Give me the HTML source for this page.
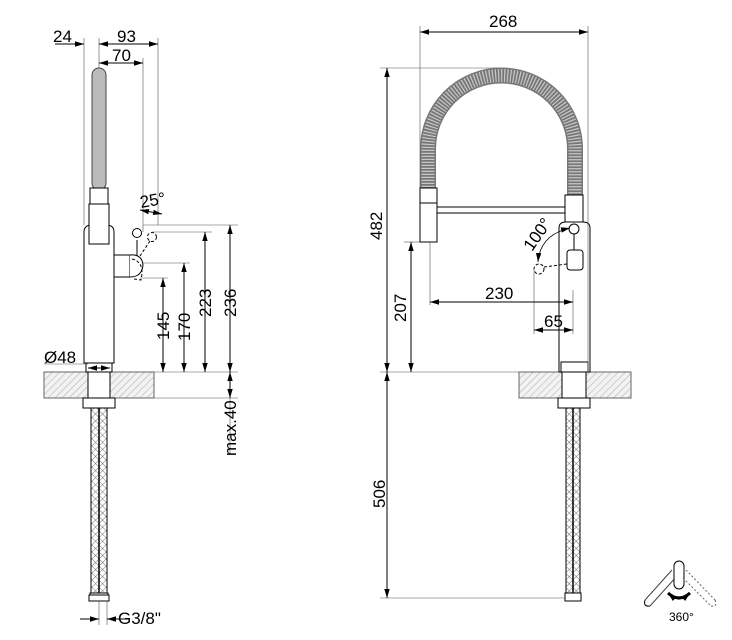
<!DOCTYPE html>
<html><head><meta charset="utf-8"><style>
html,body{margin:0;padding:0;background:#fff;}
svg{display:block;font-family:"Liberation Sans",sans-serif;}
</style></head><body>
<svg width="732" height="640" viewBox="0 0 732 640" xmlns="http://www.w3.org/2000/svg">
<defs>
<pattern id="hatch" width="5" height="5" patternUnits="userSpaceOnUse" patternTransform="rotate(45)">
<rect width="5" height="5" fill="#f2f2f2"/><line x1="0" y1="0" x2="0" y2="5" stroke="#aaa" stroke-width="1"/></pattern>
<pattern id="braid" width="5" height="5" patternUnits="userSpaceOnUse" patternTransform="rotate(45)">
<rect width="5" height="5" fill="#fff"/><line x1="0" y1="0" x2="0" y2="5" stroke="#555" stroke-width="0.8"/><line x1="0" y1="0" x2="5" y2="0" stroke="#555" stroke-width="0.8"/></pattern>
<marker id="a" viewBox="0 0 10 10" refX="10" refY="5" markerUnits="userSpaceOnUse" markerWidth="9" markerHeight="9" orient="auto-start-reverse"><path d="M0,2 L10,5 L0,8z" fill="#000"/></marker>
</defs>
<g stroke="#000" fill="none" stroke-width="1">

<!-- LEFT FAUCET -->
<rect x="44" y="372" width="110" height="26" fill="url(#hatch)" stroke="#666"/>
<rect x="88" y="372" width="22" height="26" fill="#fff"/>
<path d="M84,363 V232 Q84,225 92,225 H106 Q114,225 114,232 V363 Z" fill="#fff"/>
<rect x="86" y="363" width="26" height="9" fill="#fff"/>
<rect x="83" y="398" width="32" height="10" fill="#fff"/>
<rect x="92" y="68" width="14" height="122" rx="7" fill="#bbb" stroke="#444"/>
<rect x="90" y="188" width="18" height="16" fill="#fff"/>
<rect x="89" y="204" width="20" height="40" fill="#fff"/>
<rect x="114" y="255" width="16" height="22" fill="#fff"/>
<path d="M130,255 Q142,254 143,265 Q142,277 130,277" fill="#fff"/>
<line x1="137" y1="240" x2="137" y2="256"/><circle cx="137" cy="233" r="4.5" fill="#fff"/>
<g stroke-dasharray="3,2"><line x1="140" y1="256" x2="150" y2="241"/><circle cx="152" cy="237" r="4.5"/><path d="M132,259 Q145,262 141,280 L134,279"/></g>
<rect x="91" y="408" width="16" height="185" fill="url(#braid)"/>
<line x1="99" y1="408" x2="99" y2="593" stroke-width="1.5"/>
<rect x="90" y="593" width="18" height="8" fill="#fff"/>
<rect x="89" y="595" width="20" height="6" fill="#fff"/>

<!-- left dims -->
<g stroke-width="0.6" stroke="#555">
<line x1="84" y1="38" x2="84" y2="225"/><line x1="99" y1="38" x2="99" y2="68"/>
<line x1="143" y1="58" x2="143" y2="232"/><line x1="158" y1="38" x2="158" y2="225"/>
<line x1="143" y1="225" x2="238" y2="225"/><line x1="152" y1="232" x2="212" y2="232"/>
<line x1="143" y1="263" x2="190" y2="263"/><line x1="140" y1="278" x2="168" y2="278"/>
<line x1="154" y1="372" x2="238" y2="372"/><line x1="154" y1="398" x2="238" y2="398"/>
<line x1="230" y1="398" x2="230" y2="455"/>
<line x1="44" y1="364" x2="88" y2="364"/>
<line x1="99" y1="601" x2="99" y2="625"/><line x1="107" y1="601" x2="107" y2="625"/>
</g>
<line x1="55" y1="44" x2="84" y2="44" marker-end="url(#a)"/>
<line x1="99" y1="44" x2="158" y2="44" marker-start="url(#a)" marker-end="url(#a)"/>
<line x1="99" y1="63" x2="143" y2="63" marker-start="url(#a)" marker-end="url(#a)"/>
<line x1="140" y1="210" x2="162" y2="214" marker-start="url(#a)" marker-end="url(#a)"/>
<line x1="163" y1="278" x2="163" y2="372" marker-start="url(#a)" marker-end="url(#a)"/>
<line x1="184" y1="263" x2="184" y2="372" marker-start="url(#a)" marker-end="url(#a)"/>
<line x1="205" y1="232" x2="205" y2="372" marker-start="url(#a)" marker-end="url(#a)"/>
<line x1="230" y1="225" x2="230" y2="372" marker-start="url(#a)" marker-end="url(#a)"/>
<line x1="230" y1="372" x2="230" y2="398" marker-start="url(#a)" marker-end="url(#a)"/>
<line x1="88" y1="368" x2="110" y2="368" marker-start="url(#a)" marker-end="url(#a)"/>
<line x1="80" y1="619" x2="99" y2="619" marker-end="url(#a)"/>
<line x1="130" y1="619" x2="107" y2="619" marker-end="url(#a)"/>

<!-- RIGHT FAUCET -->
<rect x="519" y="372" width="112" height="26" fill="url(#hatch)" stroke="#666"/>
<rect x="562" y="372" width="24" height="26" fill="#fff"/>
<path d="M428,190 V149 A73.5,73.5 0 0 1 575,149 V195" stroke="#777" stroke-width="16" fill="none"/>
<path d="M428,190 V149 A73.5,73.5 0 0 1 575,149 V195" stroke="#c8c8c8" stroke-width="13" stroke-dasharray="1.2,1.8" fill="none"/>
<rect x="420" y="188" width="17" height="54" fill="#fff"/><line x1="420" y1="203" x2="437" y2="203"/>
<rect x="437" y="207" width="128" height="6" fill="#fff"/>
<rect x="565" y="195" width="18" height="27" fill="#fff"/>
<path d="M559,372 V228 Q559,222 566,222 H583 Q590,222 590,228 V372 Z" fill="#fff"/>
<rect x="561" y="362" width="27" height="10" fill="#fff"/>
<rect x="558" y="398" width="32" height="10" fill="#fff"/>
<circle cx="574" cy="229" r="5" fill="#fff"/><line x1="574" y1="234" x2="574" y2="250"/>
<rect x="567" y="250" width="16" height="20" rx="3" fill="#fff"/>
<g stroke-dasharray="3,2"><circle cx="539" cy="269" r="5"/><line x1="544" y1="267" x2="567" y2="264"/></g>
<path d="M570,228 Q540,235 538,262" stroke-width="0.8" marker-start="url(#a)" marker-end="url(#a)"/>
<rect x="566" y="408" width="14" height="185" fill="url(#braid)"/>
<line x1="573" y1="408" x2="573" y2="593" stroke-width="1.5"/>
<rect x="565" y="593" width="16" height="8" fill="#fff"/>

<!-- right dims -->
<g stroke-width="0.6" stroke="#555">
<line x1="420" y1="26" x2="420" y2="188"/><line x1="588" y1="26" x2="588" y2="372"/>
<line x1="380" y1="68" x2="500" y2="68"/>
<line x1="380" y1="372" x2="519" y2="372"/><line x1="404" y1="242" x2="420" y2="242"/>
<line x1="430" y1="242" x2="430" y2="305"/><line x1="534" y1="270" x2="534" y2="334"/>
<line x1="573" y1="290" x2="573" y2="334"/><line x1="380" y1="598" x2="566" y2="598"/>
</g>
<line x1="420" y1="32" x2="588" y2="32" marker-start="url(#a)" marker-end="url(#a)"/>
<line x1="387" y1="68" x2="387" y2="372" marker-start="url(#a)" marker-end="url(#a)"/>
<line x1="411" y1="242" x2="411" y2="372" marker-start="url(#a)" marker-end="url(#a)"/>
<line x1="387" y1="372" x2="387" y2="598" marker-start="url(#a)" marker-end="url(#a)"/>
<line x1="430" y1="302" x2="573" y2="302" marker-start="url(#a)" marker-end="url(#a)"/>
<line x1="534" y1="330" x2="573" y2="330" marker-start="url(#a)" marker-end="url(#a)"/>

<!-- 360 icon -->
<path d="M645,600 L672,570 M650,606 L677,576" stroke="#444"/>
<path d="M645,600 Q643,607 650,606" />
<rect x="674" y="561" width="10" height="28" rx="5" fill="#fff"/>
<g stroke-dasharray="2,2" stroke="#666"><path d="M686,570 L715,600 M683,578 L711,606 M715,600 Q718,607 711,606"/></g>
<path d="M668,593 Q679,603 690,593" stroke-width="3" marker-start="url(#a)" marker-end="url(#a)"/>
</g>

<g font-size="17" fill="#000">
<text x="53" y="42">24</text><text x="117" y="42">93</text><text x="112" y="61">70</text>
<text x="141" y="208" transform="rotate(-10 141 208)">25°</text>
<text x="44" y="363">Ø48</text>
<text x="118" y="624">G3/8"</text>
<text transform="translate(169 340) rotate(-90)">145</text>
<text transform="translate(190 341) rotate(-90)">170</text>
<text transform="translate(211 317) rotate(-90)">223</text>
<text transform="translate(236 317) rotate(-90)">236</text>
<text transform="translate(236 456) rotate(-90)">max.40</text>
<text x="489" y="27">268</text>
<text transform="translate(382 240) rotate(-90)">482</text>
<text transform="translate(406 322) rotate(-90)">207</text>
<text transform="translate(385 508) rotate(-90)">506</text>
<text x="485" y="299">230</text><text x="544" y="327">65</text>
<text transform="translate(532 252) rotate(-55)">100°</text>
<text x="669" y="621" font-size="12">360°</text>
</g>
</svg>
</body></html>
